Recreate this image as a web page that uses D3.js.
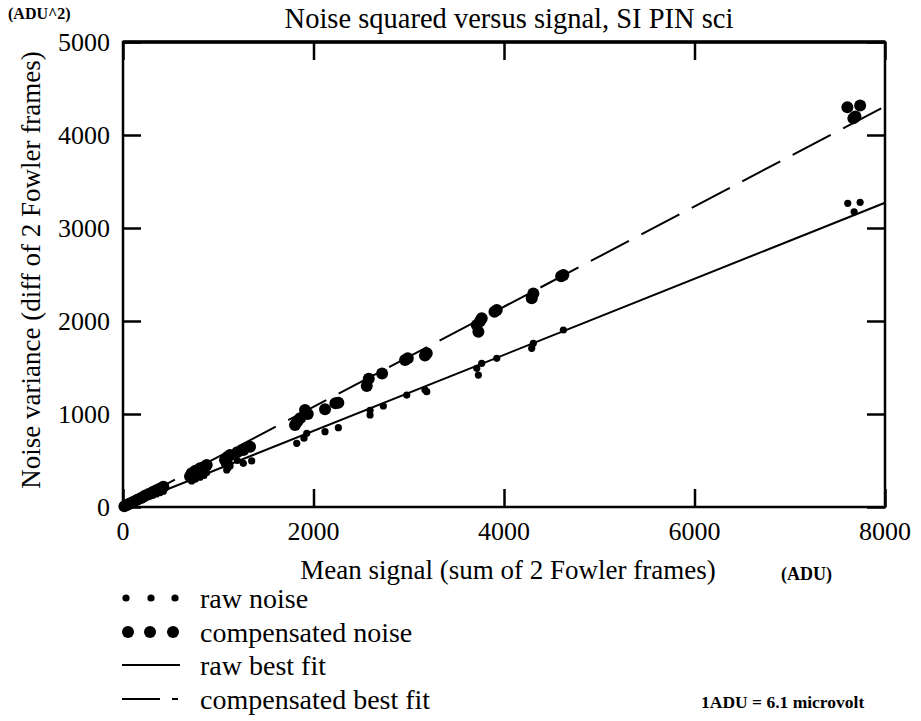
<!DOCTYPE html>
<html>
<head>
<meta charset="utf-8">
<script src="https://cdn.jsdelivr.net/npm/d3@7"></script>
<style>
  html, body { margin: 0; padding: 0; background: #fff; }
  svg { display: block; }
  text { font-family: "Liberation Serif", "Times New Roman", serif; fill: #000; }
</style>
</head>
<body>
<svg id="chart" width="921" height="721"></svg>
<script>
// ---- data ----
const xTicks = [0, 2000, 4000, 6000, 8000];
const yTicks = [0, 1000, 2000, 3000, 4000, 5000];

const rawX = [7609, 7739, 7676, 4623, 4308, 4291, 3924, 3766, 3714, 3731, 3189, 3170, 2979, 2733, 2594, 2594,
  2261, 2121, 1929, 1900, 1824, 1351, 1263, 1200, 1124, 1089, 1100, 879, 850, 809, 760, 721, 700,
  424, 390, 350, 310, 270, 230, 190, 150, 110, 70, 40, 15];
const rawY = [3265, 3276, 3175, 1903, 1760, 1706, 1599, 1545, 1491, 1419, 1240, 1260, 1204, 1086, 1040, 989,
  853, 810, 792, 740, 685, 495, 470, 500, 440, 398, 420, 370, 340, 320, 300, 280, 300,
  170, 155, 140, 125, 110, 95, 78, 62, 45, 30, 17, 6];

const compX = [7605, 7739, 7668, 7690, 4623, 4600, 4308, 4291, 3924, 3900, 3766, 3714, 3731, 3750, 3189, 3170,
  2961, 2990, 2720, 2580, 2559, 2261, 2230, 2121, 1911, 1940, 1859, 1806, 1830, 1334, 1263, 1200, 1124,
  1100, 1071, 1090, 879, 850, 809, 760, 721, 704, 424, 390, 350, 310, 270, 230, 190, 150, 110, 70, 40, 15];
const compY = [4298, 4317, 4179, 4200, 2494, 2480, 2297, 2244, 2118, 2100, 2029, 1957, 1885, 2000, 1652, 1630,
  1580, 1600, 1435, 1380, 1300, 1121, 1115, 1050, 1043, 1000, 954, 882, 920, 648, 613, 590, 559,
  540, 505, 470, 452, 430, 416, 390, 362, 330, 218, 200, 180, 160, 140, 120, 98, 78, 57, 37, 22, 8];

// best fit lines (endpoints, drawn from right to left)
const rawFitX = [8000, 0];
const rawFitY = [3272, 0];
const compFitX = [7960, 0];
const compFitY = [4287, 0];

const legendLabels = ["raw noise", "compensated noise", "raw best fit", "compensated best fit"];

// ---- drawing ----
const FONT = "'Liberation Serif', 'Times New Roman', Tinos, serif";
const svg = d3.select("#chart").attr("font-family", FONT);
const x = d3.scaleLinear().domain([0, 8000]).range([123, 885]);
const y = d3.scaleLinear().domain([0, 5000]).range([507, 42]);

// frame
svg.append("rect")
  .attr("x", x(0)).attr("y", y(5000))
  .attr("width", x(8000) - x(0)).attr("height", y(0) - y(5000))
  .attr("fill", "none").attr("stroke", "#000").attr("stroke-width", 2.5);
svg.append("line").attr("x1", x(0)).attr("x2", x(8000)).attr("y1", y(5000)).attr("y2", y(5000))
  .attr("stroke", "#000").attr("stroke-width", 3.5);

// axes with inward ticks
const tickLen = 18;
const axB = d3.axisBottom(x).tickValues(xTicks).tickSize(-tickLen).tickFormat("");
const axT = d3.axisTop(x).tickValues(xTicks).tickSize(-tickLen).tickFormat("");
const axL = d3.axisLeft(y).tickValues(yTicks).tickSize(-tickLen).tickFormat("");
const axR = d3.axisRight(y).tickValues(yTicks).tickSize(-tickLen).tickFormat("");
[[axB, `translate(0,${y(0)})`], [axT, `translate(0,${y(5000)})`],
 [axL, `translate(${x(0)},0)`], [axR, `translate(${x(8000)},0)`]].forEach(([ax, tr]) => {
  const g = svg.append("g").attr("transform", tr).call(ax);
  g.select(".domain").remove();
  g.selectAll(".tick line").attr("stroke", "#000").attr("stroke-width", 2.5);
});

// tick labels
svg.append("g").selectAll("text").data(xTicks).join("text")
  .attr("x", d => x(d)).attr("y", 540).attr("text-anchor", "middle")
  .attr("font-family", FONT).attr("font-size", 26).text(d => d);
svg.append("g").selectAll("text").data(yTicks).join("text")
  .attr("x", 110).attr("y", d => y(d) + 9).attr("text-anchor", "end")
  .attr("font-family", FONT).attr("font-size", 26).text(d => d);

// fit lines
const line = d3.line().x(d => x(d[0])).y(d => y(d[1]));
svg.append("path").datum(rawFitX.map((v, i) => [v, rawFitY[i]]))
  .attr("d", line).attr("fill", "none").attr("stroke", "#000").attr("stroke-width", 2);
svg.append("path").datum(compFitX.map((v, i) => [v, compFitY[i]]))
  .attr("d", line).attr("fill", "none").attr("stroke", "#000").attr("stroke-width", 2)
  .attr("stroke-dasharray", "43,14");

// points
svg.append("g").selectAll("circle").data(rawX.map((v, i) => [v, rawY[i]])).join("circle")
  .attr("cx", d => x(d[0])).attr("cy", d => y(d[1])).attr("r", 3.6).attr("fill", "#000");
svg.append("g").selectAll("circle").data(compX.map((v, i) => [v, compY[i]])).join("circle")
  .attr("cx", d => x(d[0])).attr("cy", d => y(d[1])).attr("r", 6).attr("fill", "#000");

// titles
svg.append("text").attr("x", 509).attr("y", 28).attr("text-anchor", "middle")
  .attr("font-family", FONT).attr("font-size", 28.5).text("Noise squared versus signal, SI PIN sci");
svg.append("text").attr("x", 8).attr("y", 19).attr("font-size", 16).attr("font-weight", "bold")
  .attr("font-family", FONT).text("(ADU^2)");
svg.append("text").attr("transform", "translate(40,270) rotate(-90)").attr("text-anchor", "middle")
  .attr("font-family", FONT).attr("font-size", 27).text("Noise variance (diff of 2 Fowler frames)");
svg.append("text").attr("x", 508).attr("y", 579).attr("text-anchor", "middle")
  .attr("font-family", FONT).attr("font-size", 27).text("Mean signal (sum of 2 Fowler frames)");
svg.append("text").attr("x", 781).attr("y", 580).attr("font-size", 18).attr("font-weight", "bold")
  .attr("font-family", FONT).text("(ADU)");
svg.append("text").attr("x", 701).attr("y", 708).attr("font-size", 17.5).attr("font-weight", "bold")
  .attr("font-family", FONT).text("1ADU = 6.1 microvolt");

// legend
const rowY = [598, 632, 665, 699];
const lg = svg.append("g");
[126, 151, 175].forEach(cx => lg.append("circle").attr("cx", cx).attr("cy", rowY[0]).attr("r", 3.6));
[128, 150, 173].forEach(cx => lg.append("circle").attr("cx", cx).attr("cy", rowY[1]).attr("r", 6));
lg.append("line").attr("x1", 122).attr("x2", 180).attr("y1", rowY[2]).attr("y2", rowY[2])
  .attr("stroke", "#000").attr("stroke-width", 2);
lg.append("line").attr("x1", 122).attr("x2", 160).attr("y1", rowY[3]).attr("y2", rowY[3])
  .attr("stroke", "#000").attr("stroke-width", 2);
lg.append("line").attr("x1", 172).attr("x2", 178).attr("y1", rowY[3]).attr("y2", rowY[3])
  .attr("stroke", "#000").attr("stroke-width", 2);
lg.selectAll("text").data(legendLabels).join("text")
  .attr("x", 200).attr("y", (d, i) => rowY[i] + 10)
  .attr("font-family", FONT).attr("font-size", 28).text(d => d);
</script>
</body>
</html>
